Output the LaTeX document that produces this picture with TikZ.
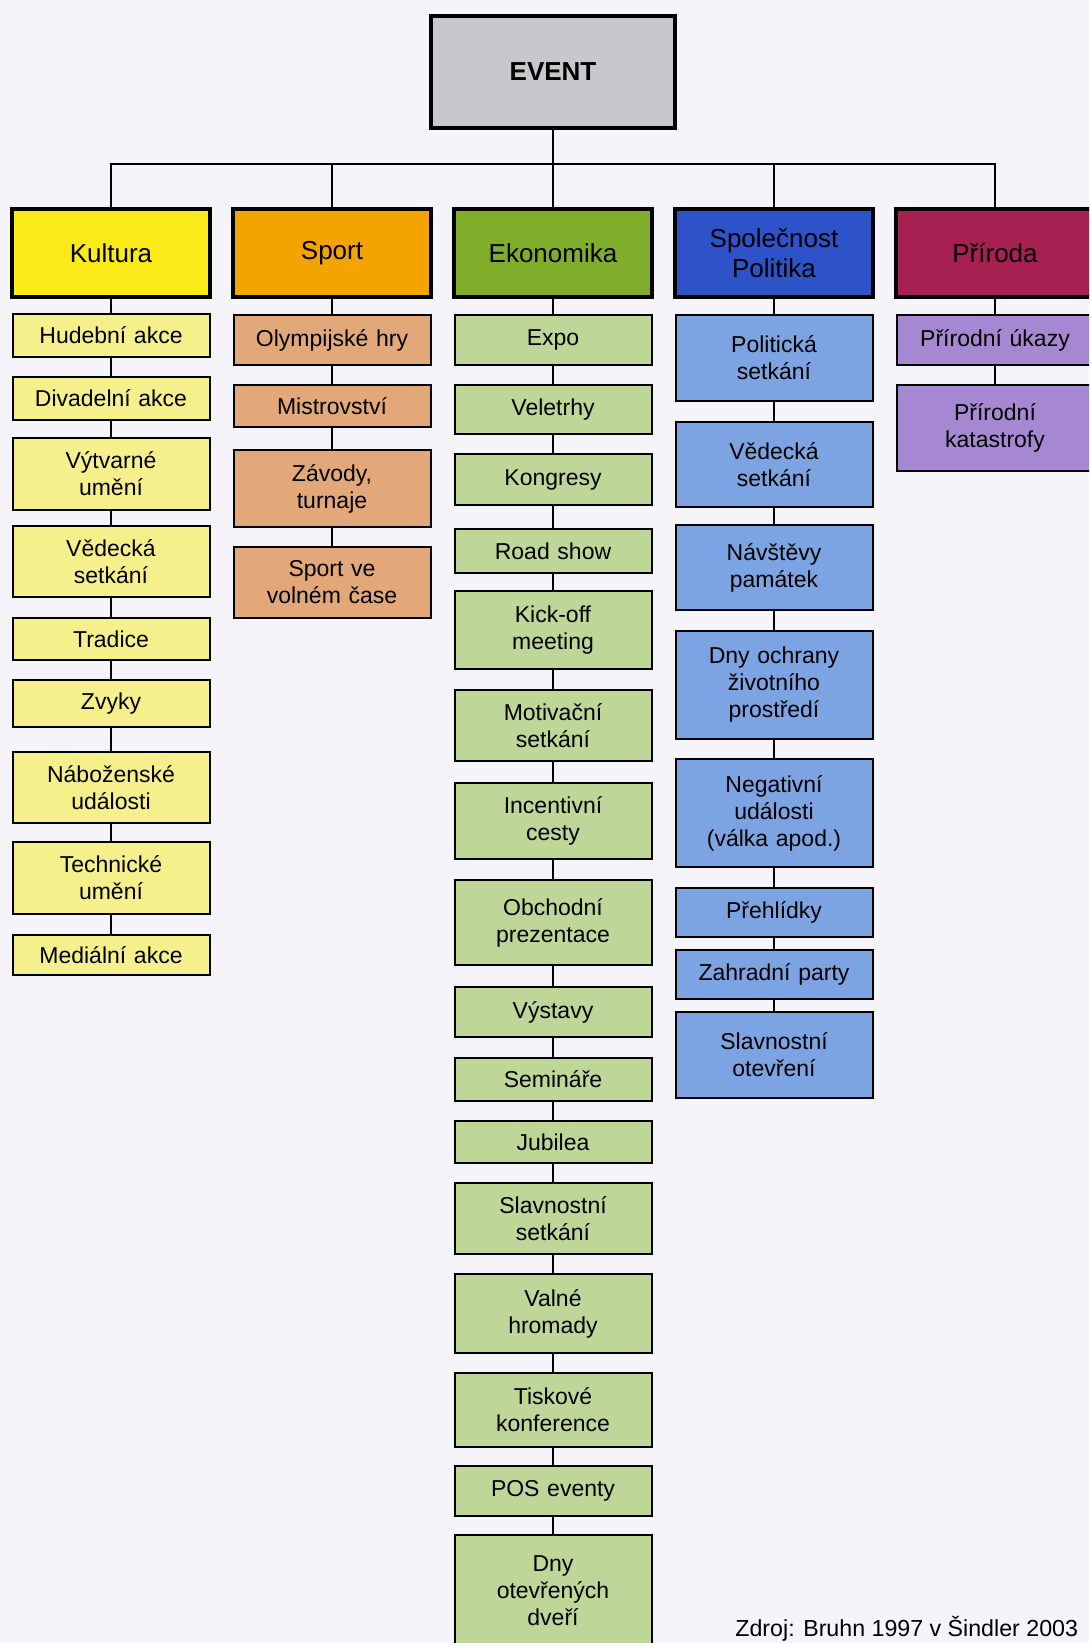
\documentclass[tikz,border=0pt]{standalone}
\usepackage{fontspec}
\setmainfont{Liberation Sans}
\usepackage{tikz}
\usetikzlibrary{positioning}

\definecolor{pagebg}{RGB}{245,245,249}
\definecolor{eventgray}{RGB}{200,200,204}
\definecolor{kulcol}{RGB}{250,234,24}
\definecolor{spocol}{RGB}{244,164,0}
\definecolor{ekocol}{RGB}{128,174,42}
\definecolor{splcol}{RGB}{46,82,200}
\definecolor{pricol}{RGB}{166,32,82}
\definecolor{kulitem}{RGB}{246,240,140}
\definecolor{spoitem}{RGB}{226,168,122}
\definecolor{ekoitem}{RGB}{190,214,152}
\definecolor{splitem}{RGB}{124,164,226}
\definecolor{priitem}{RGB}{166,136,210}

\tikzstyle{link} = [line width=1pt]
\tikzstyle{topbox} = [
    rectangle, draw=black, line width=2.2pt, fill=eventgray,
    minimum width=122pt, minimum height=56pt,
    font=\fontsize{13}{15}\selectfont\bfseries]
\tikzstyle{group} = [
    rectangle, draw=black, line width=2pt, inner sep=0pt,
    minimum width=99pt, minimum height=44pt, text centered, text width=96pt,
    font=\fontsize{13}{15}\selectfont]
\tikzstyle{item} = [
    rectangle, draw=black, line width=1pt, inner sep=0pt,
    minimum width=98.5pt, text centered, text width=96pt,
    font=\fontsize{11.5}{13.5}\selectfont]

\begin{document}
\begin{tikzpicture}[x=0.5pt,y=-0.5pt]
\fill [pagebg] (0,0) rectangle (1089,1643);
\clip (0,0) rectangle (1089,1643);

\node (event) [topbox, text depth=-1pt] at (553,72) {EVENT};

% categories
\node (kul) [group, fill=kulcol] at (111,253) {Kultura};
\node (spo) [group, fill=spocol] at (332,253) {Sport};
\node (eko) [group, fill=ekocol] at (553,253) {Ekonomika};
\node (spl) [group, fill=splcol] at (774,253) {Společnost\\Politika};
\node (pri) [group, fill=pricol] at (995,253) {Příroda};

% Kultura
\node (kul1) [item, fill=kulitem, minimum height=21.5pt] at (111,335.5) {Hudební akce};
\node (kul2) [item, fill=kulitem, minimum height=21.5pt] at (111,398.5) {Divadelní akce};
\node (kul3) [item, fill=kulitem, minimum height=36pt] at (111,474) {Výtvarné\\umění};
\node (kul4) [item, fill=kulitem, minimum height=35.5pt] at (111,561.5) {Vědecká\\setkání};
\node (kul5) [item, fill=kulitem, minimum height=21pt] at (111,639) {Tradice};
\node (kul6) [item, fill=kulitem, minimum height=23.5pt] at (111,703.5) {Zvyky};
\node (kul7) [item, fill=kulitem, minimum height=35.5pt] at (111,787.5) {Náboženské\\události};
\node (kul8) [item, fill=kulitem, minimum height=36pt] at (111,878) {Technické\\umění};
\node (kul9) [item, fill=kulitem, minimum height=20pt] at (111,955) {Mediální akce};

% Sport
\node (spo1) [item, fill=spoitem, minimum height=25pt] at (332,340) {Olympijské hry};
\node (spo2) [item, fill=spoitem, minimum height=21pt] at (332,406) {Mistrovství};
\node (spo3) [item, fill=spoitem, minimum height=38.5pt] at (332,488.5) {Závody,\\turnaje};
\node (spo4) [item, fill=spoitem, minimum height=35.5pt] at (332,582.5) {Sport ve\\volném čase};

% Ekonomika
\node (eko1) [item, fill=ekoitem, minimum height=25pt] at (553,340) {Expo};
\node (eko2) [item, fill=ekoitem, minimum height=24.5pt] at (553,409.5) {Veletrhy};
\node (eko3) [item, fill=ekoitem, minimum height=25.5pt] at (553,479.5) {Kongresy};
\node (eko4) [item, fill=ekoitem, minimum height=22pt] at (553,551) {Road show};
\node (eko5) [item, fill=ekoitem, minimum height=39pt] at (553,630) {Kick-off\\meeting};
\node (eko6) [item, fill=ekoitem, minimum height=35.5pt] at (553,725.5) {Motivační\\setkání};
\node (eko7) [item, fill=ekoitem, minimum height=38pt] at (553,821) {Incentivní\\cesty};
\node (eko8) [item, fill=ekoitem, minimum height=42.5pt] at (553,922.5) {Obchodní\\prezentace};
\node (eko9) [item, fill=ekoitem, minimum height=25pt] at (553,1012) {Výstavy};
\node (eko10) [item, fill=ekoitem, minimum height=21.5pt] at (553,1079.5) {Semináře};
\node (eko11) [item, fill=ekoitem, minimum height=21pt] at (553,1142) {Jubilea};
\node (eko12) [item, fill=ekoitem, minimum height=35.5pt] at (553,1218.5) {Slavnostní\\setkání};
\node (eko13) [item, fill=ekoitem, minimum height=39.5pt] at (553,1313.5) {Valné\\hromady};
\node (eko14) [item, fill=ekoitem, minimum height=37pt] at (553,1410) {Tiskové\\konference};
\node (eko15) [item, fill=ekoitem, minimum height=25pt] at (553,1491) {POS eventy};
\node (eko16) [item, fill=ekoitem, minimum height=56pt] at (553,1591) {Dny\\otevřených\\dveří};

% Spolecnost / Politika
\node (spl1) [item, fill=splitem, minimum height=43pt] at (774,358) {Politická\\setkání};
\node (spl2) [item, fill=splitem, minimum height=42.5pt] at (774,464.5) {Vědecká\\setkání};
\node (spl3) [item, fill=splitem, minimum height=42.5pt] at (774,567.5) {Návštěvy\\památek};
\node (spl4) [item, fill=splitem, minimum height=54pt] at (774,685) {Dny ochrany\\životního\\prostředí};
\node (spl5) [item, fill=splitem, minimum height=54pt] at (774,813) {Negativní\\události\\(válka apod.)};
\node (spl6) [item, fill=splitem, minimum height=24.5pt] at (774,912.5) {Přehlídky};
\node (spl7) [item, fill=splitem, minimum height=24.5pt] at (774,974.5) {Zahradní party};
\node (spl8) [item, fill=splitem, minimum height=43pt] at (774,1055) {Slavnostní\\otevření};

% Priroda
\node (pri1) [item, fill=priitem, minimum height=25pt] at (995,340) {Přírodní úkazy};
\node (pri2) [item, fill=priitem, minimum height=43pt] at (995,428) {Přírodní\\katastrofy};

\node (zdroj) [anchor=base west, inner sep=0pt, font=\fontsize{11.6}{14}\selectfont] at (735,1636) {Zdroj: Bruhn 1997 v Šindler 2003};

% connectors
\coordinate (bar) at (553,164);
\draw [link] (event) -- (bar);
\foreach \g in {kul,spo,eko,spl,pri}
    \draw [link] (\g) |- (bar);
\foreach \g/\n in {kul/9,spo/4,eko/16,spl/8,pri/2} {
    \draw [link] (\g) -- (\g1);
    \foreach \i in {2,...,\n} {
        \pgfmathtruncatemacro{\p}{\i-1}
        \draw [link] (\g\p) -- (\g\i);
    }
}
\end{tikzpicture}
\end{document}
